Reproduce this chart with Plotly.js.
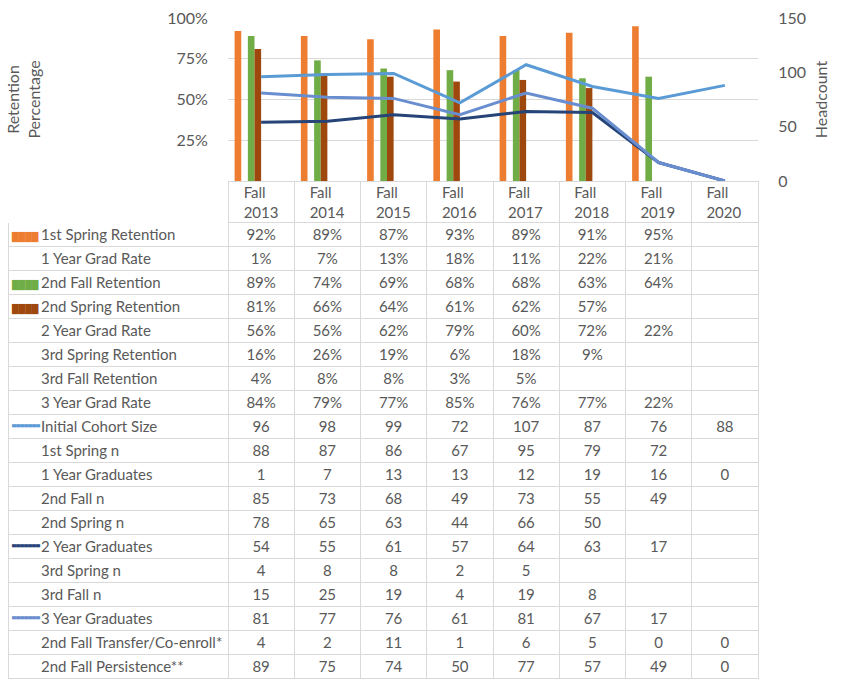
<!DOCTYPE html>
<html><head><meta charset="utf-8">
<script src="https://cdn.plot.ly/plotly-3.0.1.min.js"></script>
<style>html,body{margin:0;padding:0;background:#fff}</style>
</head><body><div id="chart" style="width:846px;height:686px"></div>
<script>
// ---- data ----
const categories = ['Fall 2013','Fall 2014','Fall 2015','Fall 2016','Fall 2017','Fall 2018','Fall 2019','Fall 2020'];
const headerLabels = ['Fall<br>2013','Fall<br>2014','Fall<br>2015','Fall<br>2016','Fall<br>2017','Fall<br>2018','Fall<br>2019','Fall<br>2020'];

const firstSpringRetention  = [0.92,0.89,0.87,0.93,0.89,0.91,0.95,null];
const oneYearGradRate       = [0.01,0.07,0.13,0.18,0.11,0.22,0.21,null];
const secondFallRetention   = [0.89,0.74,0.69,0.68,0.68,0.63,0.64,null];
const secondSpringRetention = [0.81,0.66,0.64,0.61,0.62,0.57,null,null];
const twoYearGradRate       = [0.56,0.56,0.62,0.79,0.60,0.72,0.22,null];
const thirdSpringRetention  = [0.16,0.26,0.19,0.06,0.18,0.09,null,null];
const thirdFallRetention    = [0.04,0.08,0.08,0.03,0.05,null,null,null];
const threeYearGradRate     = [0.84,0.79,0.77,0.85,0.76,0.77,0.22,null];

const initialCohortSize  = [96,98,99,72,107,87,76,88];
const firstSpringN       = [88,87,86,67,95,79,72,null];
const oneYearGraduates   = [1,7,13,13,12,19,16,0];
const secondFallN        = [85,73,68,49,73,55,49,null];
const secondSpringN      = [78,65,63,44,66,50,null,null];
const twoYearGraduates   = [54,55,61,57,64,63,17,null];
const thirdSpringN       = [4,8,8,2,5,null,null,null];
const thirdFallN         = [15,25,19,4,19,8,null,null];
const threeYearGraduates = [81,77,76,61,81,67,17,null];
const transferCoenroll   = [4,2,11,1,6,5,0,0];
const fallPersistence    = [89,75,74,50,77,57,49,0];

// ---- styles ----
const C = {orange:'#ED7D31', green:'#70AD47', brown:'#9E480E', cohort:'#5B9BD5', grad2:'#264478', grad3:'#698ED0', text:'#595959', grid:'#D9D9D9'};
const FONT = 'Lato, "Open Sans", sans-serif';

const pct = v => v == null ? '' : Math.round(v*100) + '%';
const num = v => v == null ? '' : String(v);
const nb = s => s.replace(/ /g, '\u00a0');   // keep table rows at a fixed height

const rows = [
  {label:'1st Spring Retention', key:'bar', color:C.orange, vals:firstSpringRetention, fmt:pct},
  {label:'1 Year Grad Rate', vals:oneYearGradRate, fmt:pct},
  {label:'2nd Fall Retention', key:'bar', color:C.green, vals:secondFallRetention, fmt:pct},
  {label:'2nd Spring Retention', key:'bar', color:C.brown, vals:secondSpringRetention, fmt:pct},
  {label:'2 Year Grad Rate', vals:twoYearGradRate, fmt:pct},
  {label:'3rd Spring Retention', vals:thirdSpringRetention, fmt:pct},
  {label:'3rd Fall Retention', vals:thirdFallRetention, fmt:pct},
  {label:'3 Year Grad Rate', vals:threeYearGradRate, fmt:pct},
  {label:'Initial Cohort Size', key:'line', color:C.cohort, vals:initialCohortSize, fmt:num},
  {label:'1st Spring n', vals:firstSpringN, fmt:num},
  {label:'1 Year Graduates', vals:oneYearGraduates, fmt:num},
  {label:'2nd Fall n', vals:secondFallN, fmt:num},
  {label:'2nd Spring n', vals:secondSpringN, fmt:num},
  {label:'2 Year Graduates', key:'line', color:C.grad2, vals:twoYearGraduates, fmt:num},
  {label:'3rd Spring n', vals:thirdSpringN, fmt:num},
  {label:'3rd Fall n', vals:thirdFallN, fmt:num},
  {label:'3 Year Graduates', key:'line', color:C.grad3, vals:threeYearGraduates, fmt:num},
  {label:'2nd Fall Transfer/Co-enroll*', vals:transferCoenroll, fmt:num},
  {label:'2nd Fall Persistence**', vals:fallPersistence, fmt:num}
];

const labelColumn = rows.map(r => nb(r.label));
const valueColumns = categories.map((c, i) => rows.map(r => r.fmt(r.vals[i])));
const emptyColumns = [labelColumn].concat(valueColumns).map(col => col.map(() => ''));
const barKeys  = rows.map(r => r.key === 'bar' ? '████' : '');
const lineKeys = rows.map(r => r.key === 'line' ? '▄▄▄▄▄▄▄' : '');
const keyColors = rows.map(r => r.color || 'white');

// blank cells are charted as zero (as in the source workbook)
const asZero = a => a.map(v => v == null ? 0 : v);

const W = 846, H = 686;
const px = x => x / W, py = y => 1 - y / H;
const clear = 'rgba(0,0,0,0)';

const barSeries = [
  [firstSpringRetention, C.orange],
  [oneYearGradRate, clear],
  [secondFallRetention, C.green],
  [secondSpringRetention, C.brown],
  [twoYearGradRate, clear],
  [thirdSpringRetention, clear],
  [thirdFallRetention, clear],
  [threeYearGradRate, clear]
];

const traces = barSeries.map(([v, col]) => ({
  type:'bar', x:categories, y:v, marker:{color:col, line:{width:0}}, hoverinfo:'skip', showlegend:false
}));

[[initialCohortSize, C.cohort], [twoYearGraduates, C.grad2], [threeYearGraduates, C.grad3]].forEach(([v, col]) => {
  traces.push({type:'scatter', mode:'lines', x:categories, y:asZero(v), yaxis:'y2',
    line:{color:col, width:3}, showlegend:false, hoverinfo:'skip'});
});

// table geometry
const tableLeft = 8, labelRight = 228, tableRight = 758, tableTop = 181, headerH = 41, rowH = 24;
const tableBottom = tableTop + headerH + rows.length * rowH + 2;
const colW = (tableRight - labelRight) / categories.length;
const cellFont = {family:FONT, size:15, color:C.text};
const blankHeader = n => Array(n).fill('');

// 1) grid of the data table
traces.push({
  type:'table',
  domain:{x:[px(tableLeft), px(tableRight)], y:[py(tableBottom), py(tableTop)]},
  columnwidth:[labelRight - tableLeft].concat(categories.map(() => colW)),
  header:{values:blankHeader(categories.length + 1), height:headerH, fill:{color:'white'},
    line:{color:['white'].concat(categories.map(() => C.grid)), width:1}},
  cells:{values:emptyColumns, height:rowH, fill:{color:'white'}, line:{color:C.grid, width:1}}
});

// 2) column headings (Fall / year)
traces.push({
  type:'table',
  domain:{x:[px(labelRight), px(tableRight)], y:[py(tableTop + 80), py(tableTop - 6)]},
  columnwidth:categories.map(() => colW),
  header:{values:headerLabels, height:headerH, align:'center', font:cellFont,
    fill:{color:clear}, line:{color:clear, width:0}},
  cells:{values:[], fill:{color:clear}, line:{color:clear, width:0}}
});

// 3) row labels and values (label column starts after the legend keys)
const textLeft = 33, textPreH = 10, textRowStart = tableTop + headerH - 1;
traces.push({
  type:'table',
  domain:{x:[px(textLeft), px(tableRight)], y:[py(tableBottom), py(textRowStart - textPreH)]},
  columnwidth:[labelRight - textLeft].concat(categories.map(() => colW)),
  header:{values:blankHeader(categories.length + 1), height:textPreH, fill:{color:clear}, line:{color:clear, width:0}},
  cells:{values:[labelColumn].concat(valueColumns), height:rowH,
    align:['left'].concat(categories.map(() => 'center')),
    font:cellFont, fill:{color:clear}, line:{color:clear, width:0}}
});

// 4) legend keys in the label column
function keyTable(glyphs, size, shift) {
  return {
    type:'table',
    domain:{x:[px(4), px(48)], y:[py(tableBottom + shift), py(tableTop + shift)]},
    columnwidth:[44],
    header:{values:[''], height:headerH, fill:{color:clear}, line:{color:clear, width:0}},
    cells:{values:[glyphs], height:rowH, align:'left',
      font:{family:'DejaVu Sans', size:size, color:[keyColors]},
      fill:{color:clear}, line:{color:clear, width:0}}
  };
}
traces.push(keyTable(barKeys, 8.6, 3.5));
traces.push(keyTable(lineKeys, 5.2, 0.5));

const layout = {
  width:W, height:H, margin:{l:0, r:0, t:0, b:0},
  paper_bgcolor:'white', plot_bgcolor:clear,
  font:{family:FONT, size:16, color:C.text},
  barmode:'group', bargap:0.2, bargroupgap:0, showlegend:false,
  xaxis:{domain:[px(labelRight), px(tableRight)], type:'category', showticklabels:false, showgrid:false,
    zeroline:false, showline:true, linecolor:C.grid, linewidth:1, fixedrange:true},
  yaxis:{domain:[py(tableTop), py(18)], range:[0,1], tickvals:[0.25,0.5,0.75,1],
    ticktext:['25%','50%','75%','100%'], showgrid:true, gridcolor:C.grid, zeroline:false,
    ticks:'outside', ticklen:16, tickcolor:clear, fixedrange:true,
    tickfont:{family:FONT, size:16, color:C.text},
    title:{text:'Retention<br>Percentage', standoff:122, font:{family:FONT, size:16, color:C.text}}},
  yaxis2:{overlaying:'y', side:'right', range:[0,150], tickvals:[0,50,100,150], showgrid:false,
    zeroline:false, ticks:'outside', ticklen:16, tickcolor:clear, fixedrange:true,
    tickfont:{family:FONT, size:16, color:C.text},
    title:{text:'Headcount', standoff:10, font:{family:FONT, size:16, color:C.text}}}
};

Plotly.newPlot('chart', traces, layout, {displayModeBar:false, staticPlot:true});
</script>
</body></html>
